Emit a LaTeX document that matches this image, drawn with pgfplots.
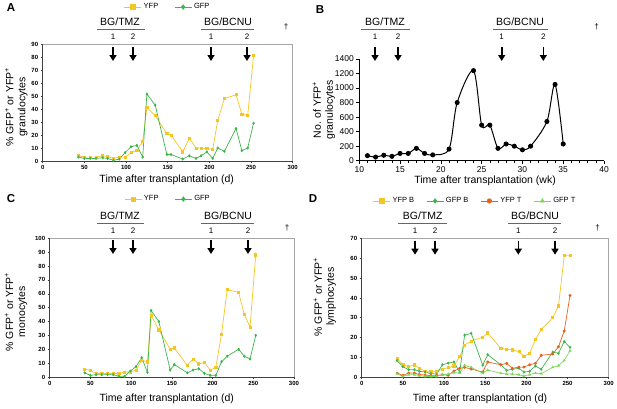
\documentclass[border=0pt]{standalone}
\usepackage{fontspec}
\setmainfont{Liberation Sans}
\usepackage{pgfplots}
\pgfplotsset{compat=1.18}
\usetikzlibrary{arrows.meta}

\definecolor{yfp}{HTML}{F5C623}
\definecolor{gfp}{HTML}{3DB54A}
\definecolor{yfpT}{HTML}{E8601C}
\definecolor{gfpT}{HTML}{7ED957}

\pgfplotsset{
  panel/.style={
    scale only axis, axis lines*=left, clip=false,
    axis line style={black!75, line width=0.6pt},
    tick style={black!75, line width=0.5pt}, tick align=outside,
    major tick length=2pt,
    tick label style={font=\fontsize{6}{7}\selectfont\bfseries},
    xticklabel style={yshift=1pt}, yticklabel style={xshift=1pt},
    /pgf/number format/assume math mode=true,
    label style={font=\fontsize{10.5}{12}\selectfont, align=center},
    xmin=0, xmax=300, xtick={0,50,...,300}, ymin=0,
    xlabel={Time after transplantation (d)},
    legend style={draw=none, fill=none, legend columns=-1,
      font=\fontsize{7.5}{9}\selectfont,
      /tikz/every even column/.append style={column sep=14pt}},
    legend image post style={mark size=2.2pt},
    every axis plot/.append style={line width=0.7pt, mark size=1.1pt},
  },
}
\newcommand{\grayframe}{\draw[black!35, line width=0.6pt] (rel axis cs:0,1) -- (rel axis cs:1,1) -- (rel axis cs:1,0);}
\newcommand{\bgarrow}[2]{\draw[-{Triangle[width=7pt,length=6pt]}, line width=1.6pt] (#1,#2) -- (#1,#2+14);}
\newcommand{\treat}[8]{% label, center x, line x1, x2, y text, arrow1 x, arrow2 x, top y
  \node[font=\fontsize{10.5}{12}\selectfont] at (#2,#5) {#1};
  \draw[black!60, line width=0.8pt] (#3,#5+7) -- (#4,#5+7);
  \node[font=\fontsize{8}{9}\selectfont] at (#6,#5+15) {1};
  \node[font=\fontsize{8}{9}\selectfont] at (#7,#5+15) {2};
  \bgarrow{#6}{#8}\bgarrow{#7}{#8}}

\begin{document}
\begin{tikzpicture}
\useasboundingbox (0,0) rectangle (617pt,408pt);

% ---------- A ----------
\begin{axis}[panel, at={(42.7pt,247pt)}, anchor=south west,
  width=250pt, height=117pt, ymax=90, ytick={0,10,...,90},
  ylabel={\% GFP\textsuperscript{+} or YFP\textsuperscript{+}\\granulocytes},
  ylabel style={at={(axis description cs:-0.105,0.46)}, anchor=center},
  xlabel style={at={(axis description cs:0.496,-0.162)}, anchor=center},
  legend style={at={(axis description cs:0.5,1.316)}, anchor=center}]
\grayframe
\addplot[yfp, mark=square*] coordinates {
(43,4) (50,3) (57,3) (64,3) (72,4) (78,3.5) (85,2) (92,3) (99,3) (106,6.5)
(113,8) (120,15) (125,41) (135,35) (149,21) (154,20) (168,7) (176,17.5)
(184,10) (190,10) (197,9.5) (204,9) (210,31) (218,48) (232,51) (239,36)
(246,35) (253,81)};
\addlegendentry{YFP}
\addplot[gfp, mark=diamond*, mark options={fill=gfp}] coordinates {
(43,3) (50,2) (57,2) (64,2) (72,2.5) (78,2) (85,0.5) (92,1.5) (99,6.5) (106,11)
(113,12) (120,3) (125,51.5) (135,43) (149,5) (154,5) (168,1.5) (176,4)
(184,2) (190,4) (197,7) (204,2) (210,10) (218,7.5) (232,25) (239,8)
(246,10) (253,29)};
\addlegendentry{GFP}
\end{axis}

% ---------- B ----------
\begin{axis}[at={(359.3pt,247.3pt)}, anchor=south west, scale only axis,
  width=244.7pt, height=101.7pt, clip=false,
  axis lines*=left, axis line style={black, line width=0.7pt},
  tick style={black, line width=0.6pt}, tick align=outside,
  major tick length=3pt, minor tick length=2pt,
  xmin=10, xmax=40, xtick={10,15,...,40}, minor x tick num=4,
  ymin=0, ymax=1400, ytick={0,200,...,1400},
  tick label style={font=\fontsize{8.5}{9}\selectfont},
  xticklabel style={yshift=1pt}, yticklabel style={xshift=1pt},
  /pgf/number format/assume math mode=true,
  /pgf/number format/1000 sep={},
  label style={font=\fontsize{10.5}{12}\selectfont, align=center},
  xlabel={Time after transplantation (wk)},
  ylabel={No. of YFP\textsuperscript{+}\\granulocytes},
  ylabel style={at={(axis description cs:-0.145,0.5)}, anchor=center},
  xlabel style={at={(axis description cs:0.514,-0.193)}, anchor=center}]
\addplot[black, line width=1pt, smooth, tension=0.5, mark=*, mark size=2pt] coordinates {
(11,70) (12,50) (13,75) (14,60) (15,100) (16,100) (17,170) (18,100) (19,80)
(21,160) (22,800) (24,1240) (25,490) (26,490) (27,170) (28,230) (29,200)
(30,150) (31,200) (33,540) (34,1050) (35,230)};
\end{axis}

% ---------- C ----------
\begin{axis}[panel, at={(49.7pt,31pt)}, anchor=south west,
  width=244.3pt, height=138.7pt, ymax=100, ytick={0,10,...,100},
  ylabel={\% GFP\textsuperscript{+} or YFP\textsuperscript{+}\\monocytes},
  ylabel style={at={(axis description cs:-0.138,0.47)}, anchor=center},
  xlabel style={at={(axis description cs:0.479,-0.154)}, anchor=center},
  legend style={at={(axis description cs:0.484,1.283)}, anchor=center}]
\grayframe
\addplot[yfp, mark=square*] coordinates {
(43,5.8) (50,4.6) (57,2.6) (64,2.6) (71,2.6) (78,2.6) (85,2.6) (92,3.6) (99,3.6)
(106,5) (113,12) (120,11) (124.5,44.5) (134,34) (148,20) (153,21) (169,8.4)
(176,13) (183,9.5) (190,10.5) (197,5) (204,7) (211,31) (218,63) (232,61)
(239,45) (246,36) (253,88)};
\addlegendentry{YFP}
\addplot[gfp, mark=diamond*, mark options={fill=gfp}] coordinates {
(43,3) (50,1.2) (57,1.7) (64,1.7) (71,1.7) (78,1.7) (85,0.5) (92,0.5) (99,4.3)
(106,7.5) (113,14) (120,3.4) (124.5,48) (134,40) (148,5) (153,9) (169,3)
(176,5) (183,6) (190,2.6) (197,1.2) (204,1.2) (211,11) (218,15) (232,20)
(239,15) (246,13) (253,30)};
\addlegendentry{GFP}
\end{axis}

% ---------- D ----------
\begin{axis}[panel, at={(361.7pt,31pt)}, anchor=south west,
  width=247pt, height=138.3pt, ymax=70, ytick={0,10,...,70},
  ylabel={\% GFP\textsuperscript{+} or YFP\textsuperscript{+}\\lymphocytes},
  ylabel style={at={(axis description cs:-0.149,0.58)}, anchor=center},
  xlabel style={at={(axis description cs:0.479,-0.159)}, anchor=center},
  legend style={at={(axis description cs:0.459,1.273)}, anchor=center,
    /tikz/every even column/.append style={column sep=10pt}}]
\grayframe
\addplot[yfp, mark=square*] coordinates {
(43,9.4) (50,6.2) (57,5.2) (64,6.2) (70,4.4) (77,2.9) (84,2.9) (91,2.9) (98,4)
(105,4.7) (112,5.6) (119,10.3) (125,16.2) (133,18.2) (147,20.2) (153,22.3)
(169,14.5) (176,14) (183,13.7) (191,12.8) (197,10.5) (204,12) (211,19)
(218,24) (232,30) (239,36) (246,61.4) (253,61.4)};
\addlegendentry{YFP B}
\addplot[gfp, mark=diamond*, mark options={fill=gfp}] coordinates {
(43,8.3) (50,5.2) (57,3.7) (64,3.7) (70,2.9) (77,2.5) (84,1.7) (91,1.5) (98,6.2)
(105,7) (112,7.6) (119,2.4) (125,21.2) (133,22.1) (147,6) (153,11.3) (169,6.2)
(176,3.4) (183,3.9) (191,4.4) (197,2.5) (204,2.9) (211,5.6) (218,3.9)
(232,12.6) (239,12) (246,18) (253,15)};
\addlegendentry{GFP B}
\addplot[yfpT, mark=*] coordinates {
(43,2) (50,0.8) (57,2) (64,2) (70,1.3) (77,1) (84,0.7) (91,0.7) (98,1.2)
(105,0.8) (112,3) (119,4.4) (125,4.9) (133,4) (147,2.5) (153,7.6) (169,6.2)
(176,6.9) (183,4.4) (191,5) (197,5) (204,6.2) (211,6.9) (218,11) (232,11.6)
(239,15.3) (246,23.3) (253,41.3)};
\addlegendentry{YFP T}
\addplot[gfpT, mark=triangle*] coordinates {
(43,1.7) (50,0.3) (57,1.2) (64,1.2) (70,0.7) (77,0.3) (84,0.3) (91,0.3) (98,1.2)
(105,1.5) (112,2.2) (119,2) (125,5.9) (133,4.9) (147,1.9) (153,3.5) (169,1.9)
(176,1.5) (183,1.5) (191,1.2) (197,0.5) (204,1.2) (211,2) (218,1.7) (232,4.9)
(239,5.7) (246,8.4) (253,13.3)};
\addlegendentry{GFP T}
\end{axis}

% ---------- annotations (pixel coordinates) ----------
\begin{scope}[x=1pt, y=-1pt, shift={(0pt,408pt)}]
\node[font=\fontsize{11.5}{13}\selectfont\bfseries] at (11,8) {A};
\node[font=\fontsize{11.5}{13}\selectfont\bfseries] at (320,10) {B};
\node[font=\fontsize{11.5}{13}\selectfont\bfseries] at (11,199) {C};
\node[font=\fontsize{11.5}{13}\selectfont\bfseries] at (313,199) {D};

\treat{BG/TMZ}{120}{97}{145}{22}{113}{133}{47}
\treat{BG/BCNU}{228}{201}{254}{22}{211}{247}{47}
\node[font=\fontsize{8}{9}\selectfont] at (286,27) {†};

\treat{BG/TMZ}{385}{361}{410}{22}{375}{398}{47}
\treat{BG/BCNU}{520}{493}{548}{22}{501.7}{543.3}{47}
\node[font=\fontsize{8}{9}\selectfont] at (596.7,27) {†};

\treat{BG/TMZ}{120}{97}{144}{216}{113}{133}{240}
\treat{BG/BCNU}{228}{201}{254}{216}{211}{248}{240}
\node[font=\fontsize{8}{9}\selectfont] at (287,228) {†};

\treat{BG/TMZ}{422.7}{398}{446.7}{216}{415}{435}{240.7}
\treat{BG/BCNU}{535}{508}{561}{216}{518.3}{555}{240.7}
\node[font=\fontsize{8}{9}\selectfont] at (597.7,228) {†};
\end{scope}
\end{tikzpicture}
\end{document}
